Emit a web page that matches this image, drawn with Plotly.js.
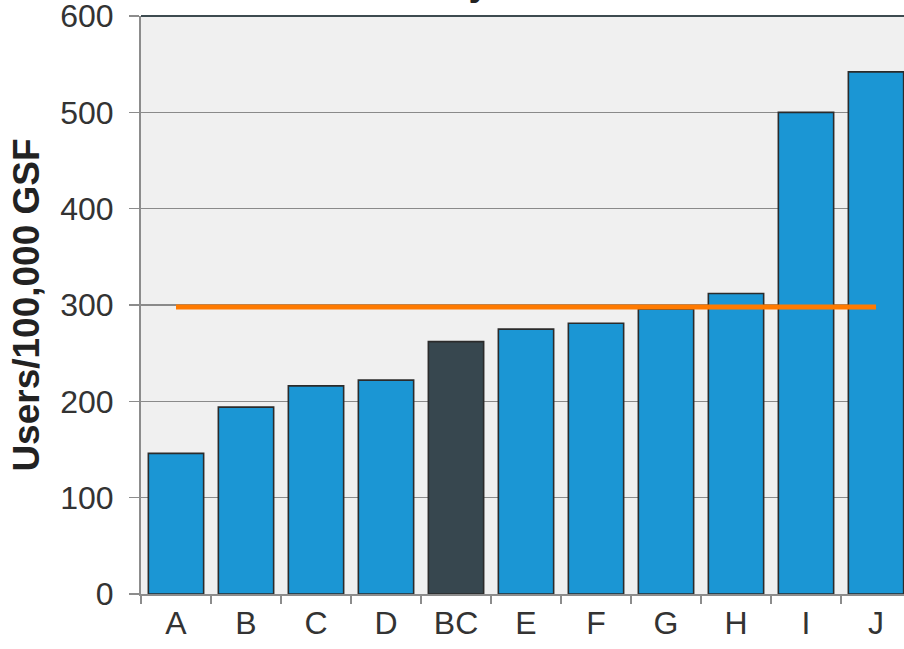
<!DOCTYPE html>
<html>
<head>
<meta charset="utf-8">
<script src="https://cdn.plot.ly/plotly-3.0.1.min.js"></script>
<style>
  html, body { margin: 0; padding: 0; background: #ffffff; }
  #chart { width: 904px; height: 649px; }
</style>
</head>
<body>
<div id="chart"></div>
<script>
// Users per 100,000 gross square feet, one bar per route
const categories = ['A', 'B', 'C', 'D', 'BC', 'E', 'F', 'G', 'H', 'I', 'J'];
const usersPerGsf = [146, 194, 216, 222, 262, 275, 281, 296, 312, 500, 542];
const highlighted = 'BC';
const benchmark = 298;
const benchmarkSpan = ['A', 'J'];
const yTicks = [0, 100, 200, 300, 400, 500, 600];

const barColors = categories.map(c => c === highlighted ? '#37474f' : '#1b96d4');

const font = 'Arial, "Liberation Sans", sans-serif';

const bars = {
  type: 'bar',
  x: categories,
  y: usersPerGsf,
  marker: { color: barColors, line: { color: '#2b2b2b', width: 1.6 } },
  hoverinfo: 'x+y',
  showlegend: false
};

const benchmarkLine = {
  type: 'scatter',
  mode: 'lines',
  x: benchmarkSpan,
  y: benchmarkSpan.map(() => benchmark),
  line: { color: '#ff7a00', width: 5 },
  hoverinfo: 'y',
  showlegend: false,
  cliponaxis: false
};

const layout = {
  width: 904,
  height: 649,
  margin: { l: 141, r: 0, t: 16, b: 55 },
  paper_bgcolor: '#ffffff',
  plot_bgcolor: '#f0f0f0',
  bargap: 0.21,
  font: { family: font, size: 32, color: '#333333' },
  xaxis: {
    type: 'category',
    range: [-0.5, 10.4],
    tickson: 'boundaries',
    ticks: 'outside',
    ticklen: 8,
    tickwidth: 1.5,
    tickcolor: '#8c8c8c',
    showline: true,
    linecolor: '#8c8c8c',
    linewidth: 1.5,
    showgrid: false,
    ticklabelstandoff: 0,
    tickfont: { family: font, size: 32, color: '#333333' },
    fixedrange: true
  },
  yaxis: {
    range: [0, 600],
    tickvals: yTicks,
    ticks: 'outside',
    ticklen: 10,
    tickwidth: 1.5,
    tickcolor: '#8c8c8c',
    showline: true,
    linecolor: '#8c8c8c',
    linewidth: 2,
    showgrid: true,
    gridcolor: '#8a8a8a',
    gridwidth: 1.3,
    zeroline: false,
    ticklabelstandoff: 9,
    ticklabeloverflow: 'allow',
    tickfont: { family: font, size: 32, color: '#333333' },
    title: {
      text: '<b>Users/100,000 GSF</b>',
      font: { family: font, size: 37, color: '#222222' },
      standoff: 9
    },
    fixedrange: true
  },
  shapes: [
    {
      type: 'line', xref: 'paper', yref: 'paper',
      x0: 0, x1: 1, y0: 1, y1: 1,
      line: { color: '#3d4b50', width: 2 }
    }
  ],
  annotations: [
    {
      text: '<b>Users by Route</b>',
      xref: 'paper', yref: 'paper',
      x: 0.429, y: 1, xanchor: 'center', yanchor: 'bottom',
      yshift: 11,
      showarrow: false,
      font: { family: font, size: 38, color: '#222222' }
    }
  ]
};

Plotly.newPlot('chart', [bars, benchmarkLine], layout, { displayModeBar: false, staticPlot: true });
</script>
</body>
</html>
